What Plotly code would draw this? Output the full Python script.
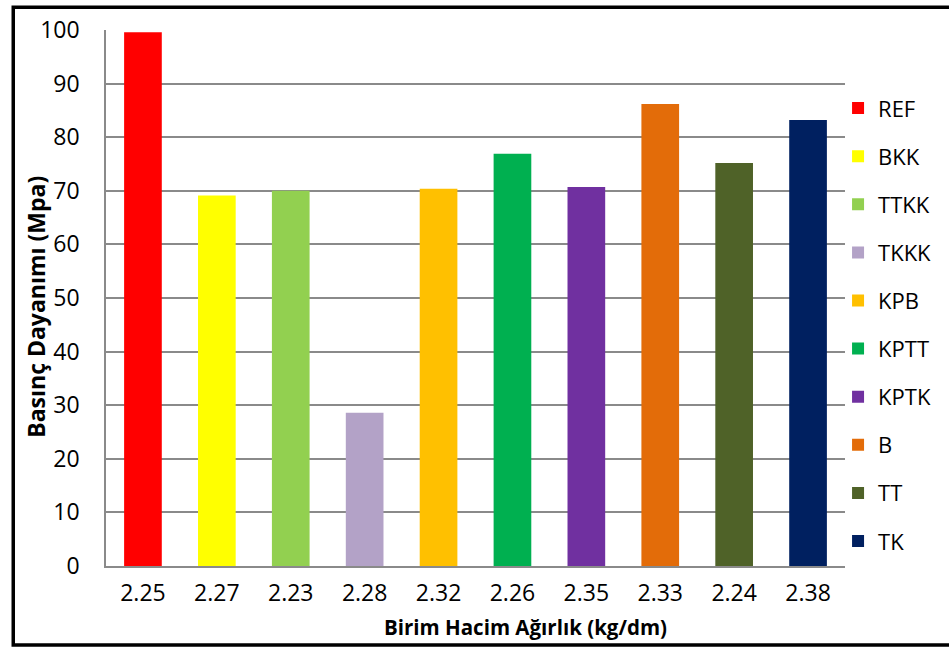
import plotly.graph_objects as go

# Compressive strength by unit weight for each mix
mixes = ["REF", "BKK", "TTKK", "TKKK", "KPB", "KPTT", "KPTK", "B", "TT", "TK"]
unit_weight = ["2.25", "2.27", "2.23", "2.28", "2.32", "2.26", "2.35", "2.33", "2.24", "2.38"]
strength = [99.6, 69.1, 70.0, 28.6, 70.4, 76.9, 70.7, 86.2, 75.2, 83.2]
colors = ["#FF0000", "#FFFF00", "#92D050", "#B3A2C7", "#FFC000",
          "#00B050", "#7030A0", "#E36C09", "#4F6228", "#002060"]

FONT = "Open Sans"

fig = go.Figure()
for name, xw, val, col in zip(mixes, unit_weight, strength, colors):
    fig.add_trace(go.Bar(
        x=[xw], y=[val], name=name, legendgroup=name,
        marker=dict(color=col, line=dict(width=0)),
        width=0.51,
    ))

# Outer frame around the whole chart (right side runs off the page)
fig.add_shape(type="rect", xref="paper", yref="paper",
              x0=-0.1255, x1=1.2, y0=-0.1475, y1=1.0425,
              line=dict(color="black", width=3.5), layer="above")

# Vertical axis title, placed close beside the tick labels
fig.add_annotation(
    text="<b>Basınç Dayanımı (Mpa)</b>", textangle=-90,
    xref="paper", yref="paper", x=-0.0958, y=0.484,
    xanchor="center", yanchor="middle", showarrow=False,
    font=dict(family=FONT, size=23, color="black"),
)

# Horizontal axis title, centred on the whole chart area
fig.add_annotation(
    text="<b>Birim Hacim Ağırlık (kg/dm)</b>",
    xref="paper", yref="paper", x=0.568, y=-0.1146,
    xanchor="center", yanchor="middle", showarrow=False,
    font=dict(family=FONT, size=20.5, color="black"),
)

fig.update_layout(
    width=949, height=647,
    margin=dict(l=106, r=102, t=30, b=80.5),
    paper_bgcolor="white", plot_bgcolor="white",
    barmode="overlay",
    font=dict(family=FONT, size=22, color="black"),
    showlegend=True,
    legend=dict(
        x=0.9906, xanchor="left", y=0.45, yanchor="middle",
        bgcolor="rgba(0,0,0,0)", font=dict(family=FONT, size=22, color="black"),
        tracegroupgap=16.5, traceorder="grouped",
    ),
    xaxis=dict(
        type="category", categoryorder="array", categoryarray=unit_weight,
        showline=True, linecolor="#8a8a8a", linewidth=1.5,
        ticks="", showgrid=False, ticklabelstandoff=6,
        tickfont=dict(family=FONT, size=23),
    ),
    yaxis=dict(
        range=[0, 100], dtick=10, tick0=0,
        showline=True, linecolor="#8a8a8a", linewidth=1.5,
        showgrid=True, gridcolor="#8a8a8a", gridwidth=1.5,
        zeroline=False,
        # invisible tick marks leave a gap between the axis and its labels
        ticks="outside", ticklen=20, tickcolor="rgba(0,0,0,0)",
        tickfont=dict(family=FONT, size=23),
    ),
)

fig.write_html("out.html")
